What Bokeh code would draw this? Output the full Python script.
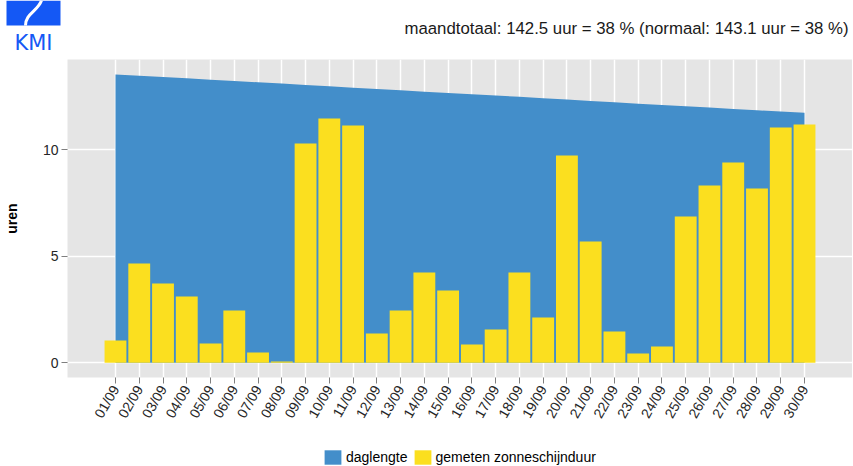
import math
from bokeh.plotting import figure
from bokeh.models import Range1d, FixedTicker, Legend, LegendItem
from bokeh.layouts import column, row
from bokeh.core.properties import value
from bokeh.embed import file_html
from bokeh.resources import INLINE

# ---- data ----
dates = ["01/09", "02/09", "03/09", "04/09", "05/09", "06/09", "07/09", "08/09", "09/09", "10/09",
         "11/09", "12/09", "13/09", "14/09", "15/09", "16/09", "17/09", "18/09", "19/09", "20/09",
         "21/09", "22/09", "23/09", "24/09", "25/09", "26/09", "27/09", "28/09", "29/09", "30/09"]
daglengte = [13.52, 13.46, 13.40, 13.34, 13.27, 13.21, 13.15, 13.09, 13.03, 12.96,
             12.90, 12.84, 12.78, 12.71, 12.65, 12.59, 12.53, 12.47, 12.40, 12.34,
             12.28, 12.22, 12.15, 12.09, 12.03, 11.97, 11.90, 11.84, 11.78, 11.72]
zonneschijn = [1.05, 4.65, 3.72, 3.11, 0.90, 2.45, 0.48, 0.06, 10.28, 11.45,
               11.12, 1.37, 2.45, 4.23, 3.39, 0.86, 1.56, 4.23, 2.12, 9.72,
               5.69, 1.47, 0.44, 0.76, 6.86, 8.31, 9.39, 8.17, 11.03, 11.17]
y_ticks = [0, 5, 10]
legend_labels = ["daglengte", "gemeten zonneschijnduur"]
title_text = "maandtotaal: 142.5 uur = 38 % (normaal: 143.1 uur = 38 %)"

days = [i + 1 for i in range(len(dates))]
zeros = [0] * len(days)

FONT_NAME = "Liberation Sans"
FONT = value(FONT_NAME)
BLUE = "#438ECA"
YELLOW = "#FBDF1F"
LOGO = "#1458F5"
W = 852

def blank(fig):
    fig.axis.visible = False
    fig.grid.visible = False
    return fig

# ---- header (logo + title) ----
header = blank(figure(frame_width=W, frame_height=59, x_range=Range1d(0, W), y_range=Range1d(59, 0),
                      output_backend="svg", toolbar_location=None,
                      min_border_left=0, min_border_right=0, min_border_top=0, min_border_bottom=0,
                      outline_line_color=None))
header.quad(left=6, right=60, top=0, bottom=25, fill_color=LOGO, line_color=None)
header.bezier(x0=[41], y0=[0], x1=[25], y1=[25], cx0=[37], cy0=[11], cx1=[25], cy1=[13],
              line_color="white", line_width=3)
header.text(x=[33], y=[42], text=["KMI"], text_align="center", text_baseline="alphabetic",
            text_font=value("DejaVu Sans"), text_font_size="21px", text_color=LOGO)
header.text(x=[848], y=[28], text=[title_text], text_align="right", text_baseline="alphabetic",
            text_font=FONT, text_font_size="16.8px", text_color="#1a1a1a")

# ---- main chart ----
p = figure(frame_width=785, frame_height=318, x_range=Range1d(-1.02, 32.02), y_range=Range1d(-0.69, 14.22),
           output_backend="svg", toolbar_location=None,
           min_border_left=67, min_border_right=0, min_border_top=0, min_border_bottom=71,
           background_fill_color="#E5E5E5", border_fill_color="white", outline_line_color=None)

area = p.varea(x=days, y1=zeros, y2=daglengte, fill_color=BLUE)
bars = p.vbar(x=days, top=zonneschijn, width=0.92, fill_color=YELLOW, line_color=None)

p.xaxis.ticker = FixedTicker(ticks=days)
p.xaxis.major_label_overrides = {d: lab for d, lab in zip(days, dates)}
p.xaxis.major_label_orientation = math.radians(60)
p.yaxis.ticker = FixedTicker(ticks=y_ticks)

for ax in (p.xaxis, p.yaxis):
    ax.axis_line_color = None
    ax.major_tick_line_color = "#7F7F7F"
    ax.major_tick_out = 6
    ax.major_tick_in = 0
    ax.minor_tick_line_color = None
    ax.major_label_text_font = FONT_NAME
    ax.major_label_text_font_size = "14px"
    ax.major_label_text_color = "#262626"
    ax.major_label_standoff = 3

p.yaxis.axis_label = "uren"
p.yaxis.axis_label_text_font = FONT_NAME
p.yaxis.axis_label_text_font_size = "14px"
p.yaxis.axis_label_text_font_style = "bold"
p.yaxis.axis_label_text_color = "black"
p.yaxis.axis_label_standoff = 20

p.grid.grid_line_color = "white"
p.grid.grid_line_width = 1.5

# ---- legend strip (same series, drawn off-range so only the legend shows) ----
lf = blank(figure(frame_width=W, frame_height=18, x_range=Range1d(-20, -19), y_range=Range1d(0, 1),
                  output_backend="svg", toolbar_location=None,
                  min_border_left=0, min_border_right=0, min_border_top=0, min_border_bottom=0,
                  outline_line_color=None))
l_area = lf.varea(x=days, y1=zeros, y2=daglengte, fill_color=BLUE)
l_bars = lf.vbar(x=days, top=zonneschijn, width=0.92, fill_color=YELLOW, line_color=None)
legend = Legend(items=[LegendItem(label=legend_labels[0], renderers=[l_area]),
                       LegendItem(label=legend_labels[1], renderers=[l_bars])],
                orientation="horizontal", location=(322, 0),
                glyph_width=21, glyph_height=18, label_standoff=3, spacing=4,
                padding=0, margin=0, border_line_color=None, background_fill_alpha=0,
                label_text_font=FONT_NAME, label_text_font_size="14px", label_text_color="black",
                label_height=18)
lf.add_layout(legend, "center")

layout = column(row(header), row(p), row(lf), spacing=0)
open("out.html", "w").write(file_html(layout, INLINE))
